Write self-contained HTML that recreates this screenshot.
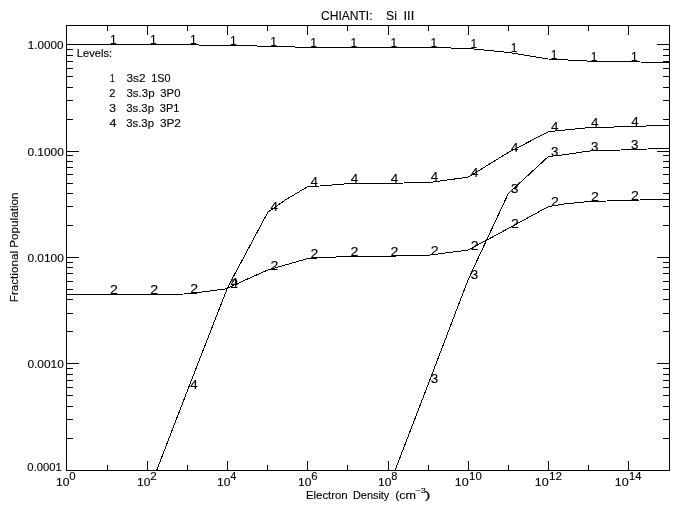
<!DOCTYPE html>
<html><head><meta charset="utf-8"><title>CHIANTI: Si III</title>
<style>html,body{margin:0;padding:0;background:#fff;}svg{display:block;filter:grayscale(1);}</style>
</head><body>
<svg width="680" height="511" viewBox="0 0 680 511">
<rect width="680" height="511" fill="#fff"/>
<path d="M66 25.5H670M66 470.5H670M66.5 25V471M669.5 25V471M107.5 465V470M107.5 26V31M147.5 461V470M147.5 26V35M187.5 465V470M187.5 26V31M227.5 461V470M227.5 26V35M267.5 465V470M267.5 26V31M307.5 461V470M307.5 26V35M347.5 465V470M347.5 26V31M388.5 461V470M388.5 26V35M428.5 465V470M428.5 26V31M468.5 461V470M468.5 26V35M508.5 465V470M508.5 26V31M548.5 461V470M548.5 26V35M588.5 465V470M588.5 26V31M628.5 461V470M628.5 26V35M67 44.5H79M657 44.5H669M67 119.5H73M663 119.5H669M67 100.5H73M663 100.5H669M67 87.5H73M663 87.5H669M67 76.5H73M663 76.5H669M67 68.5H73M663 68.5H669M67 61.5H73M663 61.5H669M67 55.5H73M663 55.5H669M67 49.5H73M663 49.5H669M67 151.5H79M657 151.5H669M67 225.5H73M663 225.5H669M67 206.5H73M663 206.5H669M67 193.5H73M663 193.5H669M67 183.5H73M663 183.5H669M67 174.5H73M663 174.5H669M67 167.5H73M663 167.5H669M67 161.5H73M663 161.5H669M67 155.5H73M663 155.5H669M67 257.5H79M657 257.5H669M67 331.5H73M663 331.5H669M67 313.5H73M663 313.5H669M67 299.5H73M663 299.5H669M67 289.5H73M663 289.5H669M67 281.5H73M663 281.5H669M67 273.5H73M663 273.5H669M67 267.5H73M663 267.5H669M67 262.5H73M663 262.5H669M67 363.5H79M657 363.5H669M67 438.5H73M663 438.5H669M67 419.5H73M663 419.5H669M67 406.5H73M663 406.5H669M67 395.5H73M663 395.5H669M67 387.5H73M663 387.5H669M67 380.5H73M663 380.5H669M67 374.5H73M663 374.5H669M67 368.5H73M663 368.5H669M67 470.5H79M657 470.5H669" stroke="#000" stroke-width="1" fill="none" shape-rendering="crispEdges"/>
<defs><clipPath id="c"><rect x="66" y="25" width="604" height="446"/></clipPath></defs>
<g clip-path="url(#c)" stroke="#000" stroke-width="1" fill="none" shape-rendering="crispEdges">
<polyline points="66.5,44.5 107.5,44.5 147.6,44.5 187.6,44.8 227.7,45.5 267.8,46.2 307.9,47.4 348.0,47.5 388.0,47.5 428.1,47.5 468.2,48.4 508.3,52.4 548.4,59.0 588.4,61.1 628.5,61.8 669.5,62.5"/>
<polyline points="66.5,294.5 107.5,294.5 147.6,294.5 183.9,294.0 196.8,293.0 202.1,292.0 209.8,291.0 217.1,290.0 225.2,289.0 267.8,270.0 307.9,258.5 348.0,256.4 388.0,256.2 428.1,255.3 468.2,250.0 508.3,228.5 548.4,206.6 551.6,206.0 557.9,205.0 563.9,204.0 574.1,203.0 584.1,202.0 606.6,201.0 639.6,200.0 669.5,199.3"/>
<polyline points="388.0,488.7 428.1,384.5 468.2,279.5 508.3,193.5 548.4,156.5 562.0,155.0 569.0,154.0 576.0,153.0 582.0,152.0 590.0,151.0 620.8,150.0 647.9,149.0 669.5,148.3"/>
<polyline points="147.6,494.0 187.6,390.1 227.7,287.3 267.8,212.3 285.3,200.0 307.9,186.5 319.8,186.0 331.7,185.0 343.7,184.0 403.8,183.0 433.0,182.0 468.2,177.1 508.3,152.5 548.4,131.7 588.4,127.7 628.5,126.6 669.5,125.2"/>
</g>
<g font-family="Liberation Sans, sans-serif" fill="#000" stroke="#000" stroke-width="0.12">
<text x="321.06" y="19.60" font-size="12.5" textLength="51.46" lengthAdjust="spacingAndGlyphs">CHIANTI:</text>
<text x="386.11" y="19.60" font-size="12.5" textLength="10.94" lengthAdjust="spacingAndGlyphs">Si</text>
<text x="403.55" y="19.60" font-size="12.5" textLength="10.71" lengthAdjust="spacingAndGlyphs">III</text>
<text x="27.89" y="48.80" font-size="11" textLength="35.65" lengthAdjust="spacingAndGlyphs">1.0000</text>
<text x="27.40" y="156.10" font-size="11" textLength="36.38" lengthAdjust="spacingAndGlyphs">0.1000</text>
<text x="27.40" y="261.90" font-size="11" textLength="36.38" lengthAdjust="spacingAndGlyphs">0.0100</text>
<text x="27.40" y="368.00" font-size="11" textLength="36.38" lengthAdjust="spacingAndGlyphs">0.0010</text>
<text x="27.39" y="470.80" font-size="11" textLength="34.47" lengthAdjust="spacingAndGlyphs">0.0001</text>
<text x="56.04" y="485.70" font-size="11" textLength="13.39" lengthAdjust="spacingAndGlyphs">10</text>
<text x="69.30" y="479.70" font-size="11" textLength="6.35" lengthAdjust="spacingAndGlyphs">0</text>
<text x="137.04" y="485.70" font-size="11" textLength="13.39" lengthAdjust="spacingAndGlyphs">10</text>
<text x="150.31" y="479.70" font-size="11" textLength="6.47" lengthAdjust="spacingAndGlyphs">2</text>
<text x="217.04" y="485.70" font-size="11" textLength="13.39" lengthAdjust="spacingAndGlyphs">10</text>
<text x="230.62" y="479.70" font-size="11" textLength="5.79" lengthAdjust="spacingAndGlyphs">4</text>
<text x="298.04" y="485.70" font-size="11" textLength="13.39" lengthAdjust="spacingAndGlyphs">10</text>
<text x="311.24" y="479.70" font-size="11" textLength="6.25" lengthAdjust="spacingAndGlyphs">6</text>
<text x="378.04" y="485.70" font-size="11" textLength="13.39" lengthAdjust="spacingAndGlyphs">10</text>
<text x="391.36" y="479.70" font-size="11" textLength="6.15" lengthAdjust="spacingAndGlyphs">8</text>
<text x="454.84" y="485.70" font-size="11" textLength="13.92" lengthAdjust="spacingAndGlyphs">10</text>
<text x="469.10" y="479.80" font-size="11" textLength="12.68" lengthAdjust="spacingAndGlyphs">10</text>
<text x="534.84" y="485.70" font-size="11" textLength="13.92" lengthAdjust="spacingAndGlyphs">10</text>
<text x="549.08" y="479.80" font-size="11" textLength="13.03" lengthAdjust="spacingAndGlyphs">12</text>
<text x="614.84" y="485.70" font-size="11" textLength="13.92" lengthAdjust="spacingAndGlyphs">10</text>
<text x="629.14" y="479.80" font-size="11" textLength="12.38" lengthAdjust="spacingAndGlyphs">14</text>
<text x="306.01" y="498.90" font-size="10.5" textLength="41.69" lengthAdjust="spacingAndGlyphs">Electron</text>
<text x="352.96" y="498.90" font-size="10.5" textLength="36.33" lengthAdjust="spacingAndGlyphs">Density</text>
<text x="395.17" y="498.90" font-size="10.5" textLength="20.95" lengthAdjust="spacingAndGlyphs">(cm</text>
<text x="415.31" y="493.20" font-size="7.5" textLength="10.50" lengthAdjust="spacingAndGlyphs">&#8722;3</text>
<text x="424.65" y="498.90" font-size="10.5" textLength="5.75" lengthAdjust="spacingAndGlyphs">)</text>
<text x="0" y="0" font-size="10.5" transform="translate(18.00,302.26) rotate(-90)" textLength="109.81" lengthAdjust="spacingAndGlyphs">Fractional Population</text>
<text x="76.81" y="56.80" font-size="11" textLength="35.31" lengthAdjust="spacingAndGlyphs">Levels:</text>
<text x="109.88" y="81.80" font-size="10.5" textLength="4.57" lengthAdjust="spacingAndGlyphs">1</text>
<text x="126.56" y="81.80" font-size="10.5" textLength="19.02" lengthAdjust="spacingAndGlyphs">3s2</text>
<text x="151.18" y="81.80" font-size="10.5" textLength="19.34" lengthAdjust="spacingAndGlyphs">1S0</text>
<text x="109.30" y="96.90" font-size="10.5" textLength="6.24" lengthAdjust="spacingAndGlyphs">2</text>
<text x="126.47" y="96.90" font-size="10.5" textLength="28.08" lengthAdjust="spacingAndGlyphs">3s.3p</text>
<text x="160.32" y="96.90" font-size="10.5" textLength="20.10" lengthAdjust="spacingAndGlyphs">3P0</text>
<text x="109.03" y="111.80" font-size="10.5" textLength="7.06" lengthAdjust="spacingAndGlyphs">3</text>
<text x="126.19" y="111.80" font-size="10.5" textLength="27.76" lengthAdjust="spacingAndGlyphs">3s.3p</text>
<text x="159.85" y="111.80" font-size="10.5" textLength="19.66" lengthAdjust="spacingAndGlyphs">3P1</text>
<text x="109.45" y="126.60" font-size="10.5" textLength="6.96" lengthAdjust="spacingAndGlyphs">4</text>
<text x="126.19" y="126.60" font-size="10.5" textLength="27.76" lengthAdjust="spacingAndGlyphs">3s.3p</text>
<text x="159.92" y="126.60" font-size="10.5" textLength="21.00" lengthAdjust="spacingAndGlyphs">3P2</text>
<text x="109.9" y="44.1" font-size="12" >1</text>
<text x="150.0" y="44.1" font-size="12" >1</text>
<text x="190.0" y="44.4" font-size="12" >1</text>
<text x="230.1" y="45.1" font-size="12" >1</text>
<text x="270.2" y="45.8" font-size="12" >1</text>
<text x="310.3" y="47.0" font-size="12" >1</text>
<text x="350.4" y="47.1" font-size="12" >1</text>
<text x="390.4" y="47.1" font-size="12" >1</text>
<text x="430.5" y="47.1" font-size="12" >1</text>
<text x="470.6" y="48.0" font-size="12" >1</text>
<text x="510.7" y="52.0" font-size="12" >1</text>
<text x="550.8" y="58.6" font-size="12" >1</text>
<text x="590.8" y="60.7" font-size="12" >1</text>
<text x="630.9" y="61.4" font-size="12" >1</text>
<text x="110.1" y="294.1" font-size="12" textLength="7.88" lengthAdjust="spacingAndGlyphs">2</text>
<text x="150.2" y="294.1" font-size="12" textLength="7.88" lengthAdjust="spacingAndGlyphs">2</text>
<text x="190.2" y="293.2" font-size="12" textLength="7.88" lengthAdjust="spacingAndGlyphs">2</text>
<text x="230.3" y="288.3" font-size="12" textLength="7.88" lengthAdjust="spacingAndGlyphs">2</text>
<text x="270.4" y="269.6" font-size="12" textLength="7.88" lengthAdjust="spacingAndGlyphs">2</text>
<text x="310.5" y="258.1" font-size="12" textLength="7.88" lengthAdjust="spacingAndGlyphs">2</text>
<text x="350.6" y="256.0" font-size="12" textLength="7.88" lengthAdjust="spacingAndGlyphs">2</text>
<text x="390.6" y="255.8" font-size="12" textLength="7.88" lengthAdjust="spacingAndGlyphs">2</text>
<text x="430.7" y="254.9" font-size="12" textLength="7.88" lengthAdjust="spacingAndGlyphs">2</text>
<text x="470.8" y="249.6" font-size="12" textLength="7.88" lengthAdjust="spacingAndGlyphs">2</text>
<text x="510.9" y="228.1" font-size="12" textLength="7.88" lengthAdjust="spacingAndGlyphs">2</text>
<text x="551.0" y="205.6" font-size="12" textLength="7.88" lengthAdjust="spacingAndGlyphs">2</text>
<text x="591.0" y="201.2" font-size="12" textLength="7.88" lengthAdjust="spacingAndGlyphs">2</text>
<text x="631.1" y="200.1" font-size="12" textLength="7.88" lengthAdjust="spacingAndGlyphs">2</text>
<text x="430.7" y="383.1" font-size="12" textLength="7.47" lengthAdjust="spacingAndGlyphs">3</text>
<text x="470.8" y="279.1" font-size="12" textLength="7.47" lengthAdjust="spacingAndGlyphs">3</text>
<text x="510.9" y="193.1" font-size="12" textLength="7.47" lengthAdjust="spacingAndGlyphs">3</text>
<text x="551.0" y="156.1" font-size="12" textLength="7.47" lengthAdjust="spacingAndGlyphs">3</text>
<text x="591.0" y="150.6" font-size="12" textLength="7.47" lengthAdjust="spacingAndGlyphs">3</text>
<text x="631.1" y="149.2" font-size="12" textLength="7.47" lengthAdjust="spacingAndGlyphs">3</text>
<text x="190.3" y="388.5" font-size="12" textLength="7.47" lengthAdjust="spacingAndGlyphs">4</text>
<text x="230.4" y="286.9" font-size="12" textLength="7.47" lengthAdjust="spacingAndGlyphs">4</text>
<text x="270.5" y="211.3" font-size="12" textLength="7.47" lengthAdjust="spacingAndGlyphs">4</text>
<text x="310.6" y="186.1" font-size="12" textLength="7.47" lengthAdjust="spacingAndGlyphs">4</text>
<text x="350.7" y="182.9" font-size="12" textLength="7.47" lengthAdjust="spacingAndGlyphs">4</text>
<text x="390.7" y="182.6" font-size="12" textLength="7.47" lengthAdjust="spacingAndGlyphs">4</text>
<text x="430.8" y="181.3" font-size="12" textLength="7.47" lengthAdjust="spacingAndGlyphs">4</text>
<text x="470.9" y="176.7" font-size="12" textLength="7.47" lengthAdjust="spacingAndGlyphs">4</text>
<text x="511.0" y="152.1" font-size="12" textLength="7.47" lengthAdjust="spacingAndGlyphs">4</text>
<text x="551.1" y="131.3" font-size="12" textLength="7.47" lengthAdjust="spacingAndGlyphs">4</text>
<text x="591.1" y="127.3" font-size="12" textLength="7.47" lengthAdjust="spacingAndGlyphs">4</text>
<text x="631.2" y="126.2" font-size="12" textLength="7.47" lengthAdjust="spacingAndGlyphs">4</text>
</g>
</svg>
</body></html>
